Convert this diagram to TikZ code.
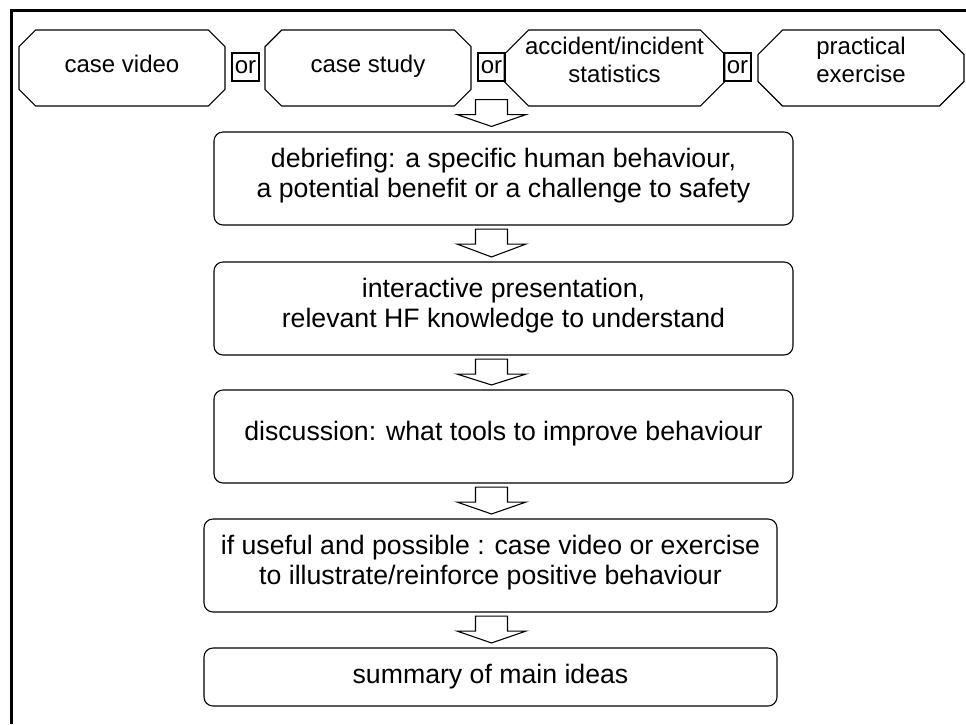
\documentclass[tikz,border=0pt]{standalone}
\usepackage{fontspec}
\setmainfont{Liberation Sans}
\usetikzlibrary{shapes.misc,calc}

% hollow block arrow from the coordinate #1 (top of the shaft) down to #2 (tip)
\newcommand\flowarrow[2]{%
  \draw[blockarrow] ($(#1)+(-16,0)$) -- ($(#1)+(16,0)$) -- ($(#1)+(16,15)$)
    -- ($(#1)+(34.5,15)$) -- (#2) -- ($(#1)+(-34.5,15)$)
    -- ($(#1)+(-16,15)$) -- cycle;}

\tikzset{
  frameline/.style={line width=3pt, line join=miter},
  source/.style={chamfered rectangle, chamfered rectangle xsep=21pt,
    draw, line width=1.1pt, minimum width=206pt, minimum height=76pt,
    inner sep=0pt, align=center, text depth=9pt,
    font=\fontsize{24}{28}\selectfont},
  twolines/.style={text depth=17pt},
  orbox/.style={draw, line width=1.1pt, minimum width=27pt, minimum height=28pt,
    inner sep=0pt, font=\fontsize{24}{27.6}\selectfont},
  stagebox/.style={draw, line width=1.1pt, rounded corners=9pt,
    minimum width=579pt, minimum height=93pt, inner sep=0pt, align=center,
    text depth=12pt, font=\fontsize{26.67}{30}\selectfont},
  blockarrow/.style={draw, line width=1.1pt, fill=white, line join=miter},
}

\begin{document}
\begin{tikzpicture}[x=1pt, y=-1pt]
\useasboundingbox (0,0) rectangle (966,724);

% outer frame (left and top edges)
\draw[frameline] (11,724) -- (11,10) -- (966,10);

% possible starting points
\node[source] (src1) at (122,68)   {case video};
\node[source] (src2) at (368,68)   {case study};
\node[source, twolines] (src3) at (614.5,68) {accident/incident\\statistics};
\node[source, twolines] (src4) at (861,68)   {practical\\exercise};
\node[orbox] (or1) at (245.5,67) {or};
\node[orbox] (or2) at (491.5,67) {or};
\node[orbox] (or3) at (737.5,67) {or};

% course stages
\node[stagebox] (b1) at (503.5,178.5)
  {debriefing: a specific human behaviour,\\a potential benefit or a challenge to safety};
\node[stagebox] (b2) at (503.5,308.5)
  {interactive presentation,\\relevant HF knowledge to understand};
\node[stagebox] (b3) at (503.5,436.5)
  {discussion: what tools to improve behaviour};
\node[stagebox, minimum width=573pt] (b4) at (490.5,565.5)
  {if useful and possible : case video or exercise\\to illustrate/reinforce positive behaviour};
\node[stagebox, minimum width=573pt, minimum height=58pt, text depth=6pt] (b5)
  at (490.5,677) {summary of main ideas};

% arrows between the stages, all on the axis of the middle "or"
\coordinate (a1s) at ($(or2.south)+(0,18)$);
\coordinate (a1e) at ($(or2 |- b1.north)+(0,-5)$);
\coordinate (a2s) at ($(or2 |- b1.south)+(0,3.5)$);
\coordinate (a2e) at ($(or2 |- b2.north)+(0,-4.5)$);
\coordinate (a3s) at ($(or2 |- b2.south)+(0,3.5)$);
\coordinate (a3e) at ($(or2 |- b3.north)+(0,-4.5)$);
\coordinate (a4s) at ($(or2 |- b3.south)+(0,3.5)$);
\coordinate (a4e) at ($(or2 |- b4.north)+(0,-4.5)$);
\coordinate (a5s) at ($(or2 |- b4.south)+(0,3.5)$);
\coordinate (a5e) at ($(or2 |- b5.north)+(0,-4.5)$);
\flowarrow{a1s}{a1e}
\flowarrow{a2s}{a2e}
\flowarrow{a3s}{a3e}
\flowarrow{a4s}{a4e}
\flowarrow{a5s}{a5e}
\end{tikzpicture}
\end{document}
